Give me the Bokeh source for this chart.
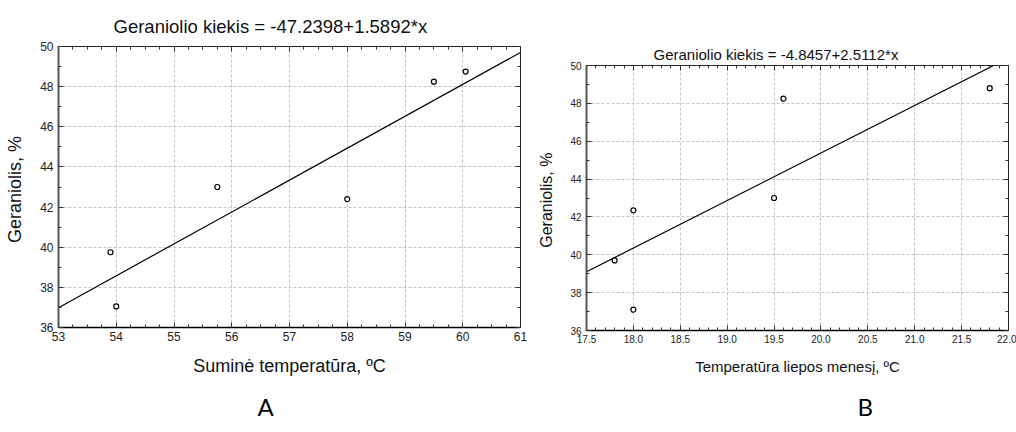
from bokeh.plotting import figure
from bokeh.layouts import row, column
from bokeh.models import Range1d, LinearAxis, Title, SingleIntervalTicker, NumeralTickFormatter
from bokeh.embed import file_html
from bokeh.resources import INLINE

# ---------------- data ----------------
# Chart A
a_x = [53.9, 54.0, 55.75, 58.0, 59.5, 60.05]
a_y = [39.75, 37.05, 43.0, 42.4, 48.25, 48.75]
a_intercept = -47.2398
a_slope = 1.5892
a_title = "Geraniolio kiekis = -47.2398+1.5892*x"
a_xlabel = "Suminė temperatūra, ºC"
a_xrange = (53, 61)

# Chart B
b_x = [17.8, 18.0, 18.0, 19.5, 19.6, 21.8]
b_y = [39.7, 42.35, 37.1, 43.0, 48.25, 48.8]
b_intercept = -4.8457
b_slope = 2.5112
b_title = "Geraniolio kiekis = -4.8457+2.5112*x"
b_xlabel = "Temperatūra liepos menesį, ºC"
b_xrange = (17.5, 22.0)

ylabel = "Geraniolis,  %"
yrange = (36, 50)
letters = ["A", "B"]

FONT = "Liberation Sans"


def make(xs, ys, b0, b1, xr, xint, xminor, title, xlabel, letter,
         width, height, bl, br, bt, bb, title_off, letter_off,
         tick_fs, title_fs, label_fs, ylabel_fs, xfmt, title_standoff, letter_standoff):
    p = figure(width=width, height=height, output_backend="svg", toolbar_location=None,
               x_range=Range1d(*xr), y_range=Range1d(*yrange),
               min_border_left=bl, min_border_right=br, min_border_top=bt, min_border_bottom=bb,
               x_axis_location=None, y_axis_location=None)
    p.outline_line_color = None
    p.background_fill_color = "white"
    p.border_fill_color = "white"

    def xt():
        return SingleIntervalTicker(interval=xint, num_minor_ticks=xminor)

    def yt():
        return SingleIntervalTicker(interval=2, num_minor_ticks=2)

    def style(ax, labels=True):
        ax.major_tick_in = 5
        ax.major_tick_out = 0
        ax.minor_tick_in = 3
        ax.minor_tick_out = 0
        ax.major_label_text_font = FONT
        ax.major_label_text_font_size = tick_fs
        ax.major_label_text_color = "#222222" if labels else None
        ax.axis_label_text_font = FONT
        ax.axis_label_text_font_style = "normal"
        ax.axis_label_text_color = "#111111"
        ax.major_tick_line_color = "#333333"
        ax.minor_tick_line_color = "#333333"

    bottom = LinearAxis(ticker=xt(), axis_label=xlabel)
    style(bottom)
    bottom.axis_label_text_font_size = label_fs
    bottom.axis_line_color = "black"
    bottom.axis_line_width = 1.5
    bottom.major_label_standoff = 4
    bottom.axis_label_standoff = 12
    if xfmt:
        bottom.formatter = NumeralTickFormatter(format="0.0")
    p.add_layout(bottom, "below")

    left = LinearAxis(ticker=yt(), axis_label=ylabel)
    style(left)
    left.axis_label_text_font_size = ylabel_fs
    left.axis_line_color = "#555555"
    left.axis_line_width = 2
    left.major_label_standoff = 5
    left.axis_label_standoff = 12
    p.add_layout(left, "left")

    top = LinearAxis(ticker=xt())
    style(top, labels=False)
    top.axis_line_color = "#222222"
    top.axis_line_width = 1
    top.major_label_text_font_size = "1px"
    top.major_label_standoff = 0
    p.add_layout(top, "above")

    right = LinearAxis(ticker=yt())
    style(right, labels=False)
    right.axis_line_color = "#222222"
    right.axis_line_width = 1
    right.major_label_text_font_size = "1px"
    right.major_label_standoff = 0
    p.add_layout(right, "right")

    # titles are added after the axes, so they sit outside them
    p.add_layout(Title(text=title, align="left", offset=title_off, text_font=FONT,
                       text_font_size=title_fs, text_font_style="normal",
                       text_color="#111111", standoff=title_standoff), "above")
    p.add_layout(Title(text=letter, align="left", offset=letter_off, text_font="Lato",
                       text_font_size="24px", text_font_style="normal",
                       text_color="black", standoff=letter_standoff), "below")

    p.xgrid.ticker = xt()
    p.ygrid.ticker = yt()
    for g in (p.xgrid, p.ygrid):
        g.grid_line_color = "#c4c4c4"
        g.grid_line_dash = "3 2"
        g.grid_line_width = 1

    lx = [xr[0], xr[1]]
    ly = [b0 + b1 * v for v in lx]
    p.line(lx, ly, line_color="black", line_width=1.2)
    p.scatter(xs, ys, marker="circle", size=5, fill_color="white",
              line_color="black", line_width=1.2)
    return p


pA = make(a_x, a_y, a_intercept, a_slope, a_xrange, 1, 4, a_title, a_xlabel, letters[0],
          width=530, height=432, bl=58, br=10, bt=46, bb=105,
          title_off=55, letter_off=199,
          tick_fs="12px", title_fs="18.5px", label_fs="18px", ylabel_fs="18px", xfmt=False,
          title_standoff=19, letter_standoff=23)

pB = make(b_x, b_y, b_intercept, b_slope, b_xrange, 0.5, 5, b_title, b_xlabel, letters[1],
          width=486, height=432, bl=56, br=8, bt=65, bb=102,
          title_off=67, letter_off=271,
          tick_fs="10px", title_fs="15px", label_fs="15px", ylabel_fs="16px", xfmt=True,
          title_standoff=6, letter_standoff=24)

layout = row(column(pA), column(pB))
open("out.html", "w").write(file_html(layout, INLINE))
